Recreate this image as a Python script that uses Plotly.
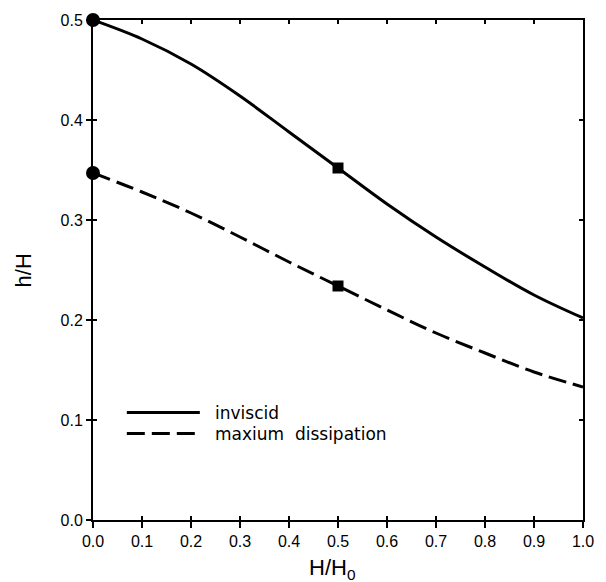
import plotly.graph_objects as go

# ---- data ----
x_ratio = [0.0, 0.1, 0.2, 0.3, 0.4, 0.5, 0.6, 0.7, 0.8, 0.9, 1.0]
h_inviscid = [0.500, 0.481, 0.456, 0.424, 0.388, 0.352, 0.316, 0.283, 0.253, 0.225, 0.202]
h_maxdiss = [0.347, 0.328, 0.307, 0.283, 0.258, 0.234, 0.210, 0.187, 0.167, 0.148, 0.133]
circle_idx = 0
square_idx = 5
series_names = ["inviscid", "maxium  dissipation"]
x_ticks = [0.0, 0.1, 0.2, 0.3, 0.4, 0.5, 0.6, 0.7, 0.8, 0.9, 1.0]
y_ticks = [0.0, 0.1, 0.2, 0.3, 0.4, 0.5]

TICKFONT = dict(family="Liberation Sans", size=16, color="black")
LEGFONT = dict(family="DejaVu Sans", size=17, color="black")
TITLEFONT = dict(family="Liberation Sans", size=22, color="black")
DASH = "18px,7px"

fig = go.Figure()

fig.add_trace(go.Scatter(x=x_ratio, y=h_inviscid, mode="lines",
                         line=dict(color="black", width=3, shape="spline"),
                         showlegend=False, cliponaxis=False))
fig.add_trace(go.Scatter(x=x_ratio, y=h_maxdiss, mode="lines",
                         line=dict(color="black", width=3, dash=DASH, shape="spline"),
                         showlegend=False, cliponaxis=False))

# circle markers at H/H0 = 0
fig.add_trace(go.Scatter(x=[x_ratio[circle_idx]] * 2,
                         y=[h_inviscid[circle_idx], h_maxdiss[circle_idx]],
                         mode="markers", marker=dict(symbol="circle", size=14, color="black"),
                         showlegend=False, cliponaxis=False))
# square markers at H/H0 = 0.5
fig.add_trace(go.Scatter(x=[x_ratio[square_idx]] * 2,
                         y=[h_inviscid[square_idx], h_maxdiss[square_idx]],
                         mode="markers", marker=dict(symbol="square", size=11, color="black"),
                         showlegend=False, cliponaxis=False))

# dummy trace for overlay axes (inside ticks on all four sides)
fig.add_trace(go.Scatter(x=[0], y=[0], xaxis="x2", yaxis="y2", mode="markers",
                         marker=dict(opacity=0), showlegend=False, hoverinfo="skip"))

# legend drawn manually (long sample lines)
leg_x0, leg_x1, leg_tx = 0.069, 0.218, 0.244
leg_y = [0.1075, 0.0865]
fig.add_shape(type="line", xref="x", yref="y", x0=leg_x0, x1=leg_x1, y0=leg_y[0], y1=leg_y[0],
              line=dict(color="black", width=3))
fig.add_shape(type="line", xref="x", yref="y", x0=leg_x0, x1=leg_x1, y0=leg_y[1], y1=leg_y[1],
              line=dict(color="black", width=3, dash=DASH))
for name, yy in zip(series_names, leg_y):
    fig.add_annotation(x=leg_tx, y=yy, xref="x", yref="y", text=name, showarrow=False,
                       xanchor="left", yanchor="middle", font=LEGFONT)

# axis titles
fig.add_annotation(x=0.488, y=-0.066, xref="paper", yref="paper", text="H/H<sub>0</sub>",
                   showarrow=False, xanchor="center", yanchor="top", font=TITLEFONT)
fig.add_annotation(x=-0.142, y=0.5, xref="paper", yref="paper", text="h/H", textangle=-90,
                   showarrow=False, xanchor="center", yanchor="middle", font=TITLEFONT)

fig.update_layout(
    width=606, height=582,
    margin=dict(l=93, r=13, t=20, b=62),
    paper_bgcolor="white", plot_bgcolor="white",
    showlegend=False,
    xaxis=dict(range=[0, 1], tickvals=x_ticks, tickformat=".1f", ticks="outside", ticklen=6,
               tickwidth=1.5, tickcolor="black", showline=True, linecolor="black", linewidth=2,
               showgrid=False, zeroline=False, tickfont=TICKFONT, mirror=True),
    yaxis=dict(range=[0, 0.5], tickvals=y_ticks, tickformat=".1f", ticks="outside", ticklen=5,
               tickwidth=1.5, tickcolor="black", showline=True, linecolor="black", linewidth=2,
               showgrid=False, zeroline=False, tickfont=TICKFONT, mirror=True),
    xaxis2=dict(range=[0, 1], tickvals=x_ticks, ticks="inside", ticklen=4, tickwidth=1.5,
                tickcolor="black", showticklabels=False, showline=False, showgrid=False,
                zeroline=False, mirror="ticks", overlaying="x", side="bottom"),
    yaxis2=dict(range=[0, 0.5], tickvals=y_ticks, ticks="inside", ticklen=4, tickwidth=1.5,
                tickcolor="black", showticklabels=False, showline=False, showgrid=False,
                zeroline=False, mirror="ticks", overlaying="y", side="left"),
)

fig.write_html("out.html")
